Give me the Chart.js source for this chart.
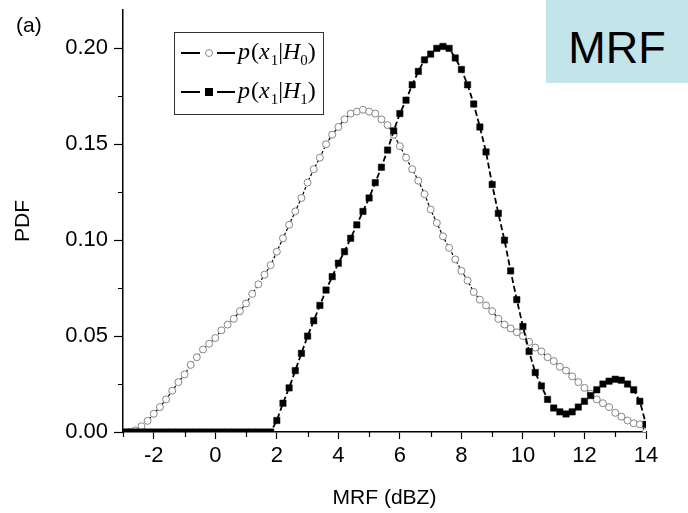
<!DOCTYPE html>
<html>
<head>
<meta charset="utf-8">
<script src="https://cdn.jsdelivr.net/npm/chart.js@4"></script>
<style>
  body { margin: 0; background: #fff; }
  #wrap { position: relative; width: 688px; height: 513px; }
  #panel { position: absolute; left: 16px; top: 14px; font: 21px "Liberation Sans", Arial, sans-serif; line-height: 1; }
  #tag { position: absolute; left: 546px; top: 0; width: 142px; height: 83px; background: #c3e5e9;
         font: 45px "Liberation Sans", Arial, sans-serif; text-align: center; line-height: 95px; }
</style>
</head>
<body>
<div id="wrap">
  <canvas id="pdfChart" width="688" height="513"></canvas>
  <div id="panel">(a)</div>
  <div id="tag">MRF</div>
</div>
<script>
// MRF bins (dBZ)
const mrfBins = [
  -3.0, -2.8, -2.6, -2.4, -2.2, -2.0, -1.8, -1.6, -1.4, -1.2,
  -1.0, -0.8, -0.6, -0.4, -0.2, 0.0, 0.2, 0.4, 0.6, 0.8,
  1.0, 1.2, 1.4, 1.6, 1.8, 2.0, 2.2, 2.4, 2.6, 2.8,
  3.0, 3.2, 3.4, 3.6, 3.8, 4.0, 4.2, 4.4, 4.6, 4.8,
  5.0, 5.2, 5.4, 5.6, 5.8, 6.0, 6.2, 6.4, 6.6, 6.8,
  7.0, 7.2, 7.4, 7.6, 7.8, 8.0, 8.2, 8.4, 8.6, 8.8,
  9.0, 9.2, 9.4, 9.6, 9.8, 10.0, 10.2, 10.4, 10.6, 10.8,
  11.0, 11.2, 11.4, 11.6, 11.8, 12.0, 12.2, 12.4, 12.6, 12.8,
  13.0, 13.2, 13.4, 13.6, 13.8, 14.0
];

// p(x1|H0)
const pdfH0 = [
  0, 0, 0.0008, 0.003, 0.0058, 0.0095, 0.013, 0.017, 0.0215, 0.026,
  0.030, 0.035, 0.039, 0.043, 0.046, 0.049, 0.053, 0.056, 0.059, 0.063,
  0.067, 0.072, 0.077, 0.082, 0.087, 0.094, 0.101, 0.108, 0.115, 0.122,
  0.130, 0.137, 0.143, 0.150, 0.155, 0.159, 0.163, 0.166, 0.167, 0.168,
  0.167, 0.166, 0.163, 0.160, 0.155, 0.149, 0.143, 0.137, 0.131, 0.124,
  0.116, 0.109, 0.102, 0.096, 0.090, 0.084, 0.079, 0.073, 0.069, 0.066,
  0.063, 0.059, 0.056, 0.054, 0.052, 0.050, 0.047, 0.044, 0.042, 0.039,
  0.037, 0.034, 0.032, 0.029, 0.026, 0.023, 0.020, 0.017, 0.015, 0.013,
  0.010, 0.008, 0.006, 0.0045, 0.004, 0
];

// p(x1|H1)
const pdfH1 = [
  0, 0, 0, 0, 0, 0, 0, 0, 0, 0,
  0, 0, 0, 0, 0, 0, 0, 0, 0, 0,
  0, 0, 0, 0, 0, 0.006, 0.015, 0.023, 0.032, 0.041,
  0.050, 0.058, 0.066, 0.074, 0.081, 0.088, 0.094, 0.101, 0.108, 0.115,
  0.122, 0.130, 0.138, 0.147, 0.157, 0.166, 0.173, 0.181, 0.188, 0.194,
  0.197, 0.200, 0.201, 0.200, 0.195, 0.189, 0.181, 0.171, 0.159, 0.146,
  0.129, 0.114, 0.100, 0.084, 0.069, 0.055, 0.042, 0.031, 0.024, 0.017,
  0.0125, 0.0105, 0.0094, 0.0105, 0.013, 0.016, 0.019, 0.022, 0.025, 0.0265,
  0.0275, 0.027, 0.025, 0.022, 0.016, 0.004
];

const minorX = [-3, -1, 1, 3, 5, 7, 9, 11, 13];
const minorY = [0.025, 0.075, 0.125, 0.175];

const sans = '"Liberation Sans", Arial, sans-serif';
const serif = '"Liberation Serif", "Times New Roman", serif';

// minor ticks + legend with subscripts
const decorations = {
    id: 'decorations',
    afterDraw(chart) {
        const { ctx, chartArea } = chart;
        const xs = chart.scales.x, ys = chart.scales.y;
        ctx.save();
        ctx.strokeStyle = '#000';
        ctx.lineWidth = 1.2;
        ctx.beginPath();
        minorX.forEach(v => {
            const px = Math.round(xs.getPixelForValue(v)) + 0.5;
            ctx.moveTo(px, chartArea.bottom);
            ctx.lineTo(px, chartArea.bottom + 5);
        });
        minorY.forEach(v => {
            const py = Math.round(ys.getPixelForValue(v)) + 0.5;
            ctx.moveTo(chartArea.left, py);
            ctx.lineTo(chartArea.left - 5, py);
        });
        ctx.stroke();

        // legend box
        ctx.strokeStyle = '#333';
        ctx.lineWidth = 1;
        ctx.strokeRect(174.5, 32.5, 149, 82);

        const rows = [
            { y: 53, sub: '0', ds: chart.data.datasets[0] },
            { y: 92, sub: '1', ds: chart.data.datasets[1] }
        ];
        rows.forEach(r => {
            ctx.strokeStyle = '#000';
            ctx.lineWidth = 2;
            ctx.beginPath();
            ctx.moveTo(181, r.y); ctx.lineTo(200, r.y);
            ctx.moveTo(217, r.y); ctx.lineTo(235, r.y);
            ctx.stroke();
            if (r.ds.pointStyle === 'rect') {
                ctx.fillStyle = '#000';
                ctx.fillRect(205, r.y - 4, 8, 8);
            } else {
                ctx.fillStyle = '#fff';
                ctx.strokeStyle = '#888';
                ctx.lineWidth = 1;
                ctx.beginPath();
                ctx.arc(209, r.y, 3.5, 0, Math.PI * 2);
                ctx.fill();
                ctx.stroke();
            }
            // p(x1|Hn)
            ctx.fillStyle = '#000';
            ctx.textBaseline = 'alphabetic';
            const base = r.y + 6;
            let tx = 238;
            const parts = [
                ['p', 'italic 24px ' + serif, 0],
                ['(', '24px ' + serif, 0],
                ['x', 'italic 24px ' + serif, 0],
                ['1', '15px ' + serif, 6],
                ['|', '24px ' + serif, 0],
                ['H', 'italic 24px ' + serif, 0],
                [r.sub, '15px ' + serif, 6],
                [')', '24px ' + serif, 0]
            ];
            parts.forEach(p => {
                ctx.font = p[1];
                ctx.fillText(p[0], tx, base + p[2]);
                tx += ctx.measureText(p[0]).width + (p[0] === 'p' || p[0] === 'x' ? 1 : 0);
            });
        });
        ctx.restore();
    }
};

new Chart(document.getElementById('pdfChart'), {
    type: 'line',
    data: {
        datasets: [{
            label: 'p(x1|H0)',
            data: mrfBins.map((x, i) => ({ x: x, y: pdfH0[i] })),
            borderColor: '#000',
            borderWidth: 1.2,
            borderDash: [3, 2],
            pointStyle: 'circle',
            pointRadius: 3.5,
            pointBorderWidth: 1,
            pointBorderColor: '#858585',
            pointBackgroundColor: '#fff',
            tension: 0,
            order: 1
        }, {
            label: 'p(x1|H1)',
            data: mrfBins.map((x, i) => ({ x: x, y: pdfH1[i] })),
            borderColor: '#000',
            borderWidth: 1.8,
            borderDash: [6, 3],
            pointStyle: 'rect',
            pointRadius: 4.5,
            pointBorderWidth: 0.5,
            pointBorderColor: '#000',
            pointBackgroundColor: '#000',
            tension: 0,
            order: 0
        }]
    },
    options: {
        responsive: false,
        animation: false,
        layout: { padding: { top: 10, right: 42, left: 0, bottom: 0 } },
        plugins: {
            legend: { display: false },
            tooltip: { enabled: false }
        },
        scales: {
            x: {
                type: 'linear',
                min: -3,
                max: 14,
                ticks: {
                    stepSize: 2,
                    includeBounds: false,
                    maxRotation: 0,
                    color: '#000',
                    padding: 4,
                    font: { family: sans, size: 22 },
                    callback: v => String(v)
                },
                grid: { drawOnChartArea: false, tickLength: 7, tickColor: '#000', tickWidth: 1.2 },
                border: { color: '#000', width: 1.5 },
                title: {
                    display: true,
                    text: 'MRF (dBZ)',
                    color: '#000',
                    font: { family: sans, size: 21 },
                    padding: { top: 0, bottom: 2 }
                },
                afterFit: s => { s.height = 81; s.paddingLeft = 0; s.paddingRight = 0; }
            },
            y: {
                min: 0,
                max: 0.22,
                ticks: {
                    stepSize: 0.05,
                    includeBounds: false,
                    color: '#000',
                    padding: 6,
                    font: { family: sans, size: 22 },
                    callback: v => v.toFixed(2)
                },
                grid: { drawOnChartArea: false, tickLength: 9, tickColor: '#000', tickWidth: 1.2 },
                border: { color: '#000', width: 1.5 },
                title: {
                    display: true,
                    text: 'PDF',
                    color: '#000',
                    font: { family: sans, size: 21 },
                    padding: { top: 11, bottom: 0 }
                },
                afterFit: s => { s.width = 123; s.paddingTop = 0; s.paddingBottom = 0; }
            }
        }
    },
    plugins: [decorations]
});
</script>
</body>
</html>
